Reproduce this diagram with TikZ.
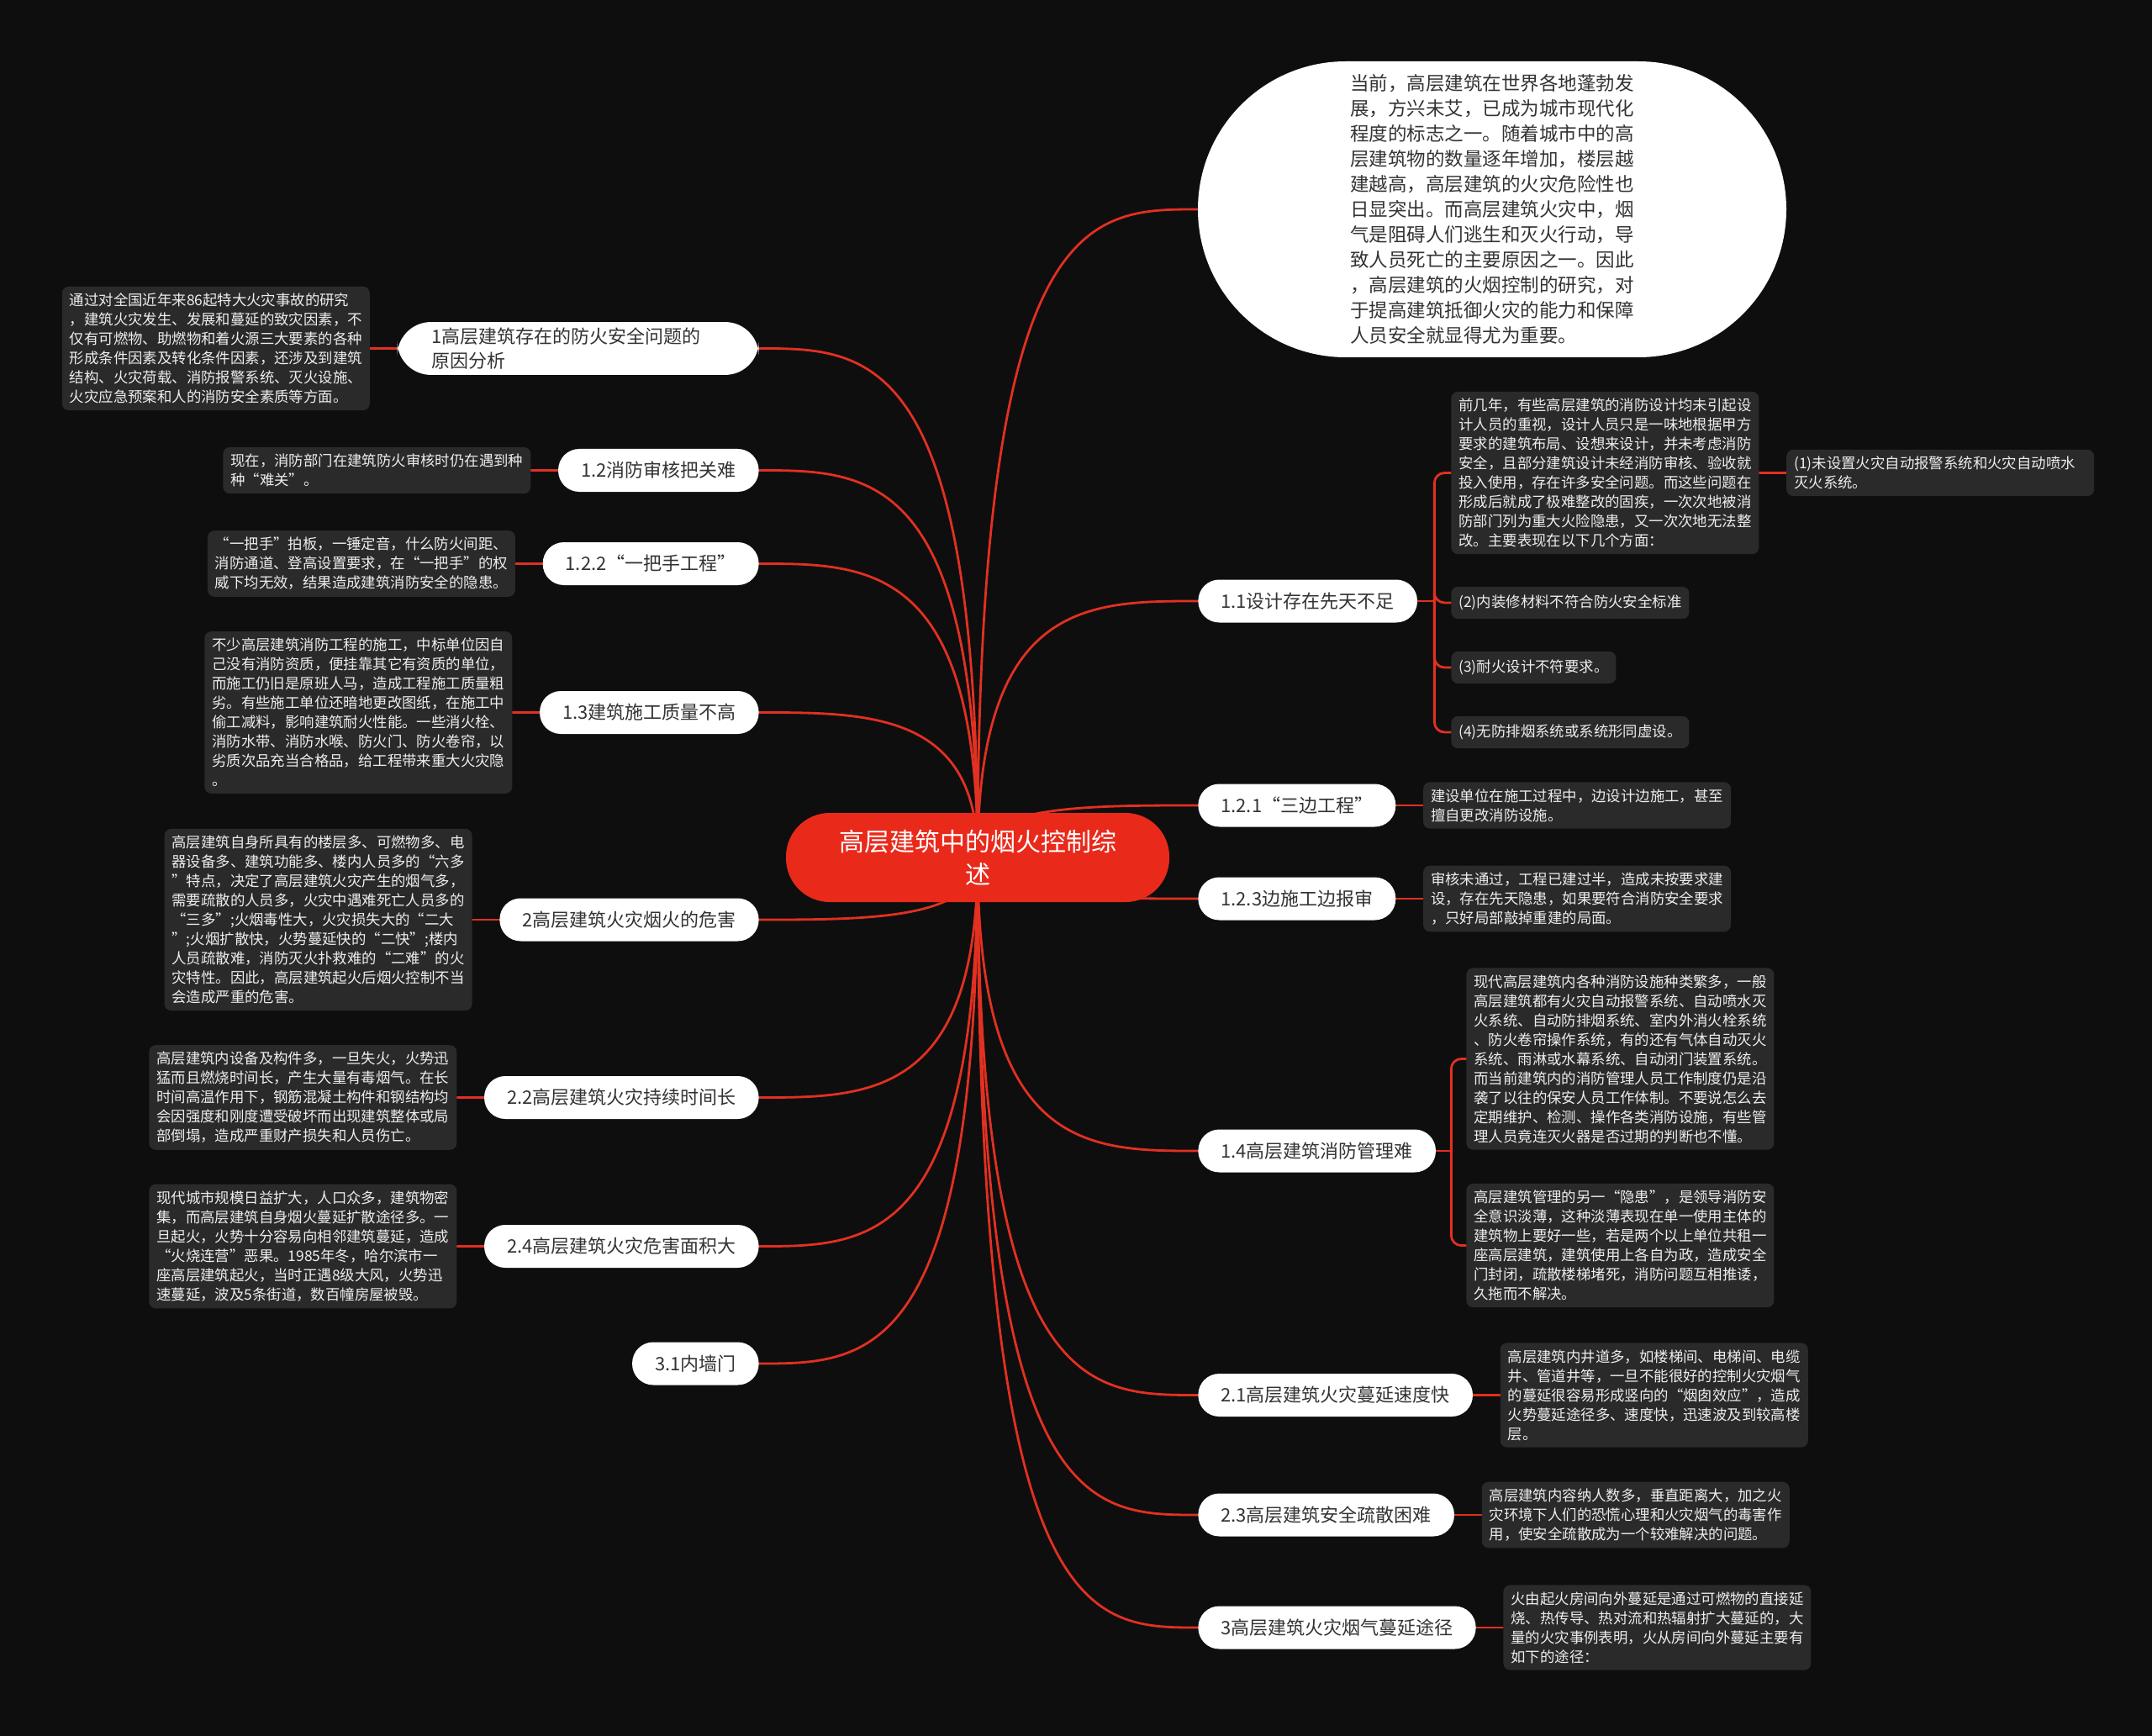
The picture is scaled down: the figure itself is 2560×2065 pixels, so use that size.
\documentclass[tikz,border=0pt]{standalone}
\usepackage{fontspec}
\setmainfont{Noto Sans CJK SC}
\usepackage{tikz}
\usetikzlibrary{positioning, calc, backgrounds}

\definecolor{bgdark}{RGB}{14,14,14}
\definecolor{rootred}{RGB}{233,42,27}
\definecolor{linkred}{RGB}{226,48,33}
\definecolor{notegray}{RGB}{42,42,42}
\definecolor{notetxt}{RGB}{238,238,238}
\definecolor{topictxt}{RGB}{51,51,51}

% curved branch out of the central topic
\newcommand{\rootlink}[2]{%
  \draw[link] (#1) .. controls (#1 |- #2) and ($(#1 |- #2)!0.5!(#2)$) .. (#2);}

\begin{document}
\begin{tikzpicture}[x=0.5pt, y=-0.5pt,
  root/.style={fill=rootred, text=white, rounded corners=26pt,
               minimum width=228pt, minimum height=53pt, align=center,
               font=\fontsize{15}{19.5}\selectfont},
  intro/.style={fill=white, text=topictxt, rounded corners=88pt,
                minimum width=350pt, minimum height=176pt, align=left,
                font=\fontsize{11.25}{15}\selectfont},
  topic/.style={fill=white, text=topictxt, rounded corners=12.5pt,
                inner xsep=13.5pt, minimum height=25.5pt,
                font=\fontsize{11}{14.5}\selectfont},
  notebase/.style={fill=notegray, text=notetxt, rounded corners=4pt,
                   inner xsep=4.5pt, inner ysep=4pt, align=left,
                   font=\fontsize{8.7}{11.5}\selectfont},
  note/.style={notebase, text width=174pt},
  snote/.style={notebase, inner ysep=5pt},
  link/.style={draw=linkred, line width=1.4pt, line cap=round},
]
\useasboundingbox (0,0) rectangle (2560,2065);

% ---- Central topic ---------------------------------------------------------
\node[root] (root) at (1163,1020) {高层建筑中的烟火控制综\\述};

% ---- Intro (top right) -----------------------------------------------------
\node[intro] (intro) at (1775,249)
  {当前，高层建筑在世界各地蓬勃发\\展，方兴未艾，已成为城市现代化\\程度的标志之一。随着城市中的高\\层建筑物的数量逐年增加，楼层越\\建越高，高层建筑的火灾危险性也\\日显突出。而高层建筑火灾中，烟\\气是阻碍人们逃生和灭火行动，导\\致人员死亡的主要原因之一。因此\\，高层建筑的火烟控制的研究，对\\于提高建筑抵御火灾的能力和保障\\人员安全就显得尤为重要。};

% ---- Left topics -----------------------------------------------------------
\node[topic, anchor=east, align=left, text width=174pt, inner xsep=20.5pt,
      rounded corners=20pt] (p1) at (903,414.5)
  {1高层建筑存在的防火安全问题的\\原因分析};
\node[topic, anchor=east] (p12) at (903,559.5) {1.2消防审核把关难};
\node[topic, anchor=east] (p122) at (903,670.5) {1.2.2“一把手工程”};
\node[topic, anchor=east] (p13) at (903,847.5) {1.3建筑施工质量不高};
\node[topic, anchor=east] (p2) at (903,1094) {2高层建筑火灾烟火的危害};
\node[topic, anchor=east] (p22) at (903,1305.5) {2.2高层建筑火灾持续时间长};
\node[topic, anchor=east] (p24) at (903,1482.5) {2.4高层建筑火灾危害面积大};
\node[topic, anchor=east] (p31) at (903,1622) {3.1内墙门};

% ---- Left notes ------------------------------------------------------------
\node[note, left=16pt of p1] (d1)
  {通过对全国近年来86起特大火灾事故的研究\\，建筑火灾发生、发展和蔓延的致灾因素，不\\仅有可燃物、助燃物和着火源三大要素的各种\\形成条件因素及转化条件因素，还涉及到建筑\\结构、火灾荷载、消防报警系统、灭火设施、\\火灾应急预案和人的消防安全素质等方面。};
\node[note, left=16pt of p12] (d12)
  {现在，消防部门在建筑防火审核时仍在遇到种\\种“难关”。};
\node[note, left=16pt of p122] (d122)
  {“一把手”拍板，一锤定音，什么防火间距、\\消防通道、登高设置要求，在“一把手”的权\\威下均无效，结果造成建筑消防安全的隐患。};
\node[note, left=16pt of p13] (d13)
  {不少高层建筑消防工程的施工，中标单位因自\\己没有消防资质，便挂靠其它有资质的单位，\\而施工仍旧是原班人马，造成工程施工质量粗\\劣。有些施工单位还暗地更改图纸，在施工中\\偷工减料，影响建筑耐火性能。一些消火栓、\\消防水带、消防水喉、防火门、防火卷帘，以\\劣质次品充当合格品，给工程带来重大火灾隐\\。};
\node[note, left=16pt of p2] (d2)
  {高层建筑自身所具有的楼层多、可燃物多、电\\器设备多、建筑功能多、楼内人员多的“六多\\”特点，决定了高层建筑火灾产生的烟气多，\\需要疏散的人员多，火灾中遇难死亡人员多的\\“三多”;火烟毒性大，火灾损失大的“二大\\”;火烟扩散快，火势蔓延快的“二快”;楼内\\人员疏散难，消防灭火扑救难的“二难”的火\\灾特性。因此，高层建筑起火后烟火控制不当\\会造成严重的危害。};
\node[note, left=16pt of p22] (d22)
  {高层建筑内设备及构件多，一旦失火，火势迅\\猛而且燃烧时间长，产生大量有毒烟气。在长\\时间高温作用下，钢筋混凝土构件和钢结构均\\会因强度和刚度遭受破坏而出现建筑整体或局\\部倒塌，造成严重财产损失和人员伤亡。};
\node[note, left=16pt of p24] (d24)
  {现代城市规模日益扩大，人口众多，建筑物密\\集，而高层建筑自身烟火蔓延扩散途径多。一\\旦起火，火势十分容易向相邻建筑蔓延，造成\\“火烧连营”恶果。1985年冬，哈尔滨市一\\座高层建筑起火，当时正遇8级大风，火势迅\\速蔓延，波及5条街道，数百幢房屋被毁。};

% ---- Right topics ----------------------------------------------------------
\node[topic, anchor=west] (r11) at (1425,715) {1.1设计存在先天不足};
\node[topic, anchor=west] (r121) at (1425,958) {1.2.1“三边工程”};
\node[topic, anchor=west] (r123) at (1425,1069) {1.2.3边施工边报审};
\node[topic, anchor=west] (r14) at (1425,1369) {1.4高层建筑消防管理难};
\node[topic, anchor=west] (r21) at (1425,1659.5) {2.1高层建筑火灾蔓延速度快};
\node[topic, anchor=west] (r23) at (1425,1802) {2.3高层建筑安全疏散困难};
\node[topic, anchor=west] (r3) at (1425,1936) {3高层建筑火灾烟气蔓延途径};

% ---- Right notes -----------------------------------------------------------
\node[note, anchor=west] (e11a) at (1726,562.5)
  {前几年，有些高层建筑的消防设计均未引起设\\计人员的重视，设计人员只是一味地根据甲方\\要求的建筑布局、设想来设计，并未考虑消防\\安全，且部分建筑设计未经消防审核、验收就\\投入使用，存在许多安全问题。而这些问题在\\形成后就成了极难整改的固疾，一次次地被消\\防部门列为重大火险隐患，又一次次地无法整\\改。主要表现在以下几个方面：};
\node[note, right=16pt of e11a] (e11a1)
  {(1)未设置火灾自动报警系统和火灾自动喷水\\灭火系统。};
\node[snote, anchor=west] (e11b) at (1726,717) {(2)内装修材料不符合防火安全标准};
\node[snote, anchor=west] (e11c) at (1726,794) {(3)耐火设计不符要求。};
\node[snote, anchor=west] (e11d) at (1726,871) {(4)无防排烟系统或系统形同虚设。};

\node[note, right=16pt of r121] (e121)
  {建设单位在施工过程中，边设计边施工，甚至\\擅自更改消防设施。};
\node[note, right=16pt of r123] (e123)
  {审核未通过，工程已建过半，造成未按要求建\\设，存在先天隐患，如果要符合消防安全要求\\，只好局部敲掉重建的局面。};

\node[note, anchor=west] (e14a) at (1744,1259.5)
  {现代高层建筑内各种消防设施种类繁多，一般\\高层建筑都有火灾自动报警系统、自动喷水灭\\火系统、自动防排烟系统、室内外消火栓系统\\、防火卷帘操作系统，有的还有气体自动灭火\\系统、雨淋或水幕系统、自动闭门装置系统。\\而当前建筑内的消防管理人员工作制度仍是沿\\袭了以往的保安人员工作体制。不要说怎么去\\定期维护、检测、操作各类消防设施，有些管\\理人员竟连灭火器是否过期的判断也不懂。};
\node[note, anchor=west] (e14b) at (1744,1481.5)
  {高层建筑管理的另一“隐患”，是领导消防安\\全意识淡薄，这种淡薄表现在单一使用主体的\\建筑物上要好一些，若是两个以上单位共租一\\座高层建筑，建筑使用上各自为政，造成安全\\门封闭，疏散楼梯堵死，消防问题互相推诿，\\久拖而不解决。};

\node[note, right=16pt of r21] (e21)
  {高层建筑内井道多，如楼梯间、电梯间、电缆\\井、管道井等，一旦不能很好的控制火灾烟气\\的蔓延很容易形成竖向的“烟囱效应”，造成\\火势蔓延途径多、速度快，迅速波及到较高楼\\层。};
\node[note, right=16pt of r23] (e23)
  {高层建筑内容纳人数多，垂直距离大，加之火\\灾环境下人们的恐慌心理和火灾烟气的毒害作\\用，使安全疏散成为一个较难解决的问题。};
\node[note, right=16pt of r3] (e3)
  {火由起火房间向外蔓延是通过可燃物的直接延\\烧、热传导、热对流和热辐射扩大蔓延的，大\\量的火灾事例表明，火从房间向外蔓延主要有\\如下的途径：};

\coordinate (j11) at ($(r11.east)+(10pt,0)$);
\coordinate (j14) at ($(r14.east)+(9pt,0)$);

% ---- Connectors ------------------------------------------------------------
\begin{scope}[on background layer]
\fill[bgdark] (0,0) rectangle (2560,2065);

\rootlink{root.center}{intro.west}
\foreach \t in {p1,p12,p122,p13,p2,p22,p24,p31}
  {\rootlink{root.center}{\t.east}}
\foreach \t in {r11,r121,r123,r14,r21,r23,r3}
  {\rootlink{root.center}{\t.west}}

\foreach \t/\n in {p1/d1,p12/d12,p122/d122,p13/d13,p2/d2,p22/d22,p24/d24}
  {\draw[link] (\t.west) -- (\n.east);}
\foreach \t/\n in {r121/e121,r123/e123,r21/e21,r23/e23,r3/e3}
  {\draw[link] (\t.east) -- (\n.west);}

\draw[link] (r11.east) -- (j11);
\foreach \n in {e11a,e11b,e11c,e11d}
  {\draw[link, rounded corners=6pt] (j11) |- (\n.west);}
\draw[link] (e11a.east) -- (e11a1.west);

\draw[link] (r14.east) -- (j14);
\foreach \n in {e14a,e14b}
  {\draw[link, rounded corners=6pt] (j14) |- (\n.west);}
\end{scope}

\end{tikzpicture}
\end{document}
